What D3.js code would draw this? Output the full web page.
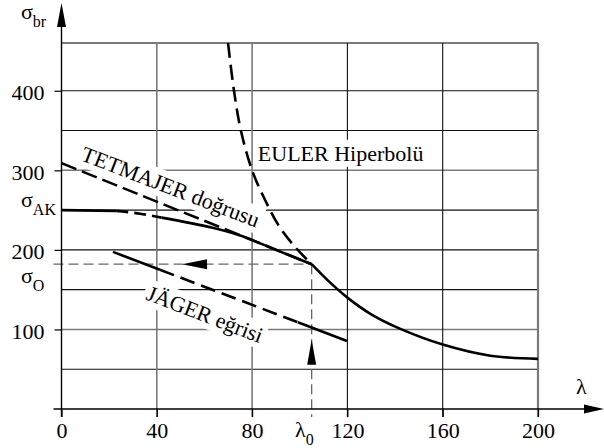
<!DOCTYPE html>
<html>
<head>
<meta charset="utf-8">
<script src="https://cdn.jsdelivr.net/npm/d3@7"></script>
<style>
  body { margin: 0; background: #fff; }
</style>
</head>
<body>
<div id="chart-area"></div>
<script>
// tick labels and grid
var xTicks = [0, 40, 80, 120, 160, 200];
var yTicks = [100, 200, 300, 400];
var xGrid  = [40, 80, 120, 160, 200];
var yGrid  = [50, 100, 150, 200, 250, 300, 350, 400, 460];

// special values
var sigmaAK = 250;
var sigmaO  = 182;
var lambda0 = 105;

// curves (lambda, sigma)
var tetmajer     = [[0, 309], [105, 182]];
var akSolid1     = [[0, 250], [23, 249]];
var akDashed     = [[23, 249], [33, 245.5], [42, 240.5]];
var akSolid2     = [[42, 240.5], [63, 228], [75, 218], [90, 200], [105, 182]];
var eulerDashed  = [[69.9, 460], [72.4, 400], [75.3, 350], [80, 300], [85.4, 263], [91.3, 230], [98.4, 202.5], [105, 182]];
var eulerSolid   = [[105, 182], [112, 161], [120, 140], [130, 119], [142, 101], [160, 81], [180, 67], [200, 63]];
var jagerSolid1  = [[21.6, 197.5], [41.3, 175]];
var jagerDashed  = [[41.3, 175], [99.2, 109]];
var jagerSolid2  = [[99.2, 109], [119.8, 85.5]];

var serif = "'Liberation Serif', 'Times New Roman', Times, 'DejaVu Serif', serif";

var margin = { top: 43, left: 61.5, bottom: 39, right: 66 };
var svgWidth  = 604;
var svgHeight = 448;
var width  = svgWidth - margin.left - margin.right;   // 476.5
var height = svgHeight - margin.top - margin.bottom;  // 366

var svg = d3.select("#chart-area")
            .append("svg")
            .attr("width", svgWidth)
            .attr("height", svgHeight)
            .attr("font-family", serif);

var g = svg.append("g")
           .attr("transform", "translate(" + margin.left + ", " + margin.top + ")");

var x = d3.scaleLinear().domain([0, 200]).range([0, width]);
var y = d3.scaleLinear().domain([0, 460]).range([height, 0]);

// grid
var grayY = [100, 300, 460];
var grayX = [40, 80, 200];

g.selectAll(".hgrid")
 .data(yGrid)
 .enter().append("line")
 .attr("x1", 0).attr("x2", width)
 .attr("y1", (d) => y(d)).attr("y2", (d) => y(d))
 .attr("stroke", (d) => grayY.includes(d) ? "#7a7a7a" : "#111")
 .attr("stroke-width", (d) => d === 460 ? 2.2 : (grayY.includes(d) ? 1.6 : 1.1));

g.selectAll(".vgrid")
 .data(xGrid)
 .enter().append("line")
 .attr("x1", (d) => x(d)).attr("x2", (d) => x(d))
 .attr("y1", 0).attr("y2", height + 8)
 .attr("stroke", (d) => grayX.includes(d) ? "#7a7a7a" : "#111")
 .attr("stroke-width", (d) => d === 200 ? 2.2 : (grayX.includes(d) ? 1.6 : 1.1));

// labels with white boxes knocking out the grid
function boxedLabel(lx, ly, angle, txt) {
    var lg = g.append("g")
              .attr("transform", "translate(" + x(lx) + "," + y(ly) + ") rotate(" + angle + ")");
    var t = lg.append("text")
              .attr("font-family", serif)
              .attr("font-size", "22px")
              .text(txt);
    var b = t.node().getBBox();
    lg.insert("rect", "text")
      .attr("x", b.x - 3).attr("y", b.y - 1)
      .attr("width", b.width + 6).attr("height", b.height + 2)
      .attr("fill", "#fff");
}
boxedLabel(7.7, 313, 21, "TETMAJER doğrusu");
boxedLabel(82.4, 312, 0, "EULER Hiperbolü");
boxedLabel(35, 138, 21, "JÄGER eğrisi");

// guide lines for sigma_O and lambda_0
g.append("line")
 .attr("x1", -8).attr("x2", x(lambda0))
 .attr("y1", y(sigmaO)).attr("y2", y(sigmaO))
 .attr("stroke", "#666").attr("stroke-width", 1.3)
 .attr("stroke-dasharray", "10,5");
g.append("line")
 .attr("x1", x(lambda0)).attr("x2", x(lambda0))
 .attr("y1", y(sigmaO)).attr("y2", height + 8)
 .attr("stroke", "#666").attr("stroke-width", 1.3)
 .attr("stroke-dasharray", "10,5");

// arrowheads on the guide lines
var ax = x(50.6), ay = y(sigmaO);
g.append("path")
 .attr("d", "M" + ax + "," + ay + " L" + (ax + 25) + "," + (ay - 5) + " L" + (ax + 25) + "," + (ay + 5) + " Z")
 .attr("fill", "#000");
var bx = x(lambda0), by = y(87);
g.append("path")
 .attr("d", "M" + bx + "," + by + " L" + (bx - 4.5) + "," + (by + 25) + " L" + (bx + 4.5) + "," + (by + 25) + " Z")
 .attr("fill", "#000");

// curves
var line = d3.line().x((d) => x(d[0])).y((d) => y(d[1]));
var curveLine = d3.line().x((d) => x(d[0])).y((d) => y(d[1])).curve(d3.curveCatmullRom);

function drawCurve(data, dash, gen) {
    g.append("path")
     .attr("d", (gen || line)(data))
     .attr("fill", "none")
     .attr("stroke", "#000")
     .attr("stroke-width", 2.6)
     .attr("stroke-dasharray", dash);
}
drawCurve(tetmajer, "16,6");
drawCurve(akSolid1, null);
drawCurve(akDashed, "12,6", curveLine);
drawCurve(akSolid2, null, curveLine);
drawCurve(eulerDashed, "15,7", curveLine);
drawCurve(eulerSolid, null, curveLine);
drawCurve(jagerSolid1, null);
drawCurve(jagerDashed, "15,7");
drawCurve(jagerSolid2, null);

// axes
var yAxisCall = d3.axisLeft(y).tickValues(yTicks).tickSize(7).tickPadding(10);
var yAx = g.append("g").call(yAxisCall).attr("font-family", serif);
yAx.select(".domain").remove();
yAx.selectAll("line").attr("stroke", "#000").attr("stroke-width", 1.2);
yAx.selectAll("text").attr("font-size", "22px").attr("dy", "0.4em").attr("font-family", serif);

var xAxisCall = d3.axisBottom(x).tickValues(xTicks).tickSize(8).tickPadding(5);
var xAx = g.append("g").attr("transform", "translate(0," + height + ")").call(xAxisCall).attr("font-family", serif);
xAx.select(".domain").remove();
xAx.selectAll("line").attr("stroke", "#000").attr("stroke-width", 1.2);
xAx.selectAll("text").attr("font-size", "22px").attr("font-family", serif);

// axis lines with arrows
g.append("line")
 .attr("x1", 0).attr("x2", 0).attr("y1", height + 8).attr("y2", -18)
 .attr("stroke", "#000").attr("stroke-width", 1.4);
g.append("path")
 .attr("d", "M0," + (-margin.top + 3) + " L-4.5," + (-margin.top + 27) + " L4.5," + (-margin.top + 27) + " Z")
 .attr("fill", "#000");
g.append("line")
 .attr("x1", -8).attr("x2", width + 50).attr("y1", height).attr("y2", height)
 .attr("stroke", "#000").attr("stroke-width", 1.4);
g.append("path")
 .attr("d", "M" + (svgWidth - margin.left) + "," + height + " L" + (svgWidth - margin.left - 20) + "," + (height - 4.5) +
       " L" + (svgWidth - margin.left - 20) + "," + (height + 4.5) + " Z")
 .attr("fill", "#000");

// symbol labels
function symLabel(px, py, main, sub, anchor) {
    var t = svg.append("text")
               .attr("x", px).attr("y", py)
               .attr("font-family", serif)
               .attr("font-size", "22px")
               .attr("text-anchor", anchor || "start");
    t.append("tspan").text(main);
    if (sub) {
        t.append("tspan").attr("font-size", "16px").attr("dy", 8).text(sub);
    }
}
symLabel(21, 19, "σ", "br");
symLabel(21, 207, "σ", "AK");
symLabel(21, 283, "σ", "O");
symLabel(576, 394, "λ", null);
symLabel(295, 437, "λ", "0");
</script>
</body>
</html>
